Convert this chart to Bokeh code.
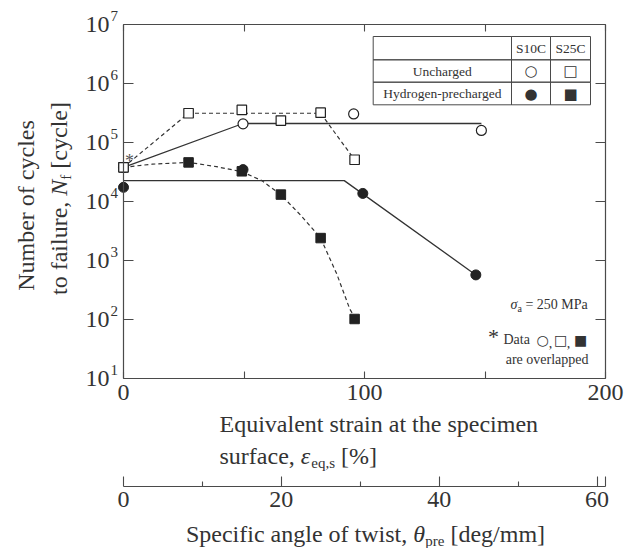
import math
from bokeh.plotting import figure
from bokeh.models import (Range1d, LinearAxis, LogAxis, FixedTicker, Label,
                          BoxAnnotation, CustomJSTickFormatter)
from bokeh.embed import file_html
from bokeh.resources import INLINE

# ---------------- data ----------------
strain_s10c_unch = [0, 49.6, 95.5, 148.5]
n_s10c_unch = [3.8e4, 2.07e5, 3.05e5, 1.6e5]

strain_s25c_unch = [0, 27.0, 49.1, 65.3, 81.8, 95.9]
n_s25c_unch = [3.8e4, 3.13e5, 3.57e5, 2.35e5, 3.2e5, 5.1e4]

strain_s10c_h = [0, 49.6, 99.3, 146.2]
n_s10c_h = [1.74e4, 3.47e4, 1.37e4, 570]

strain_s25c_h = [0, 27.0, 49.1, 65.3, 81.8, 95.9]
n_s25c_h = [3.8e4, 4.6e4, 3.25e4, 1.31e4, 2.4e3, 102]

# trend lines
trend_s10c_unch_strain = [0, 49.6, 148.5]
trend_s10c_unch_n = [3.8e4, 2.1e5, 2.1e5]
trend_s10c_h_strain = [0, 91.6, 146.2]
trend_s10c_h_n = [2.26e4, 2.26e4, 570]
trend_s25c_unch_strain = [0, 27.0, 81.8, 95.9]
trend_s25c_unch_n = [3.8e4, 3.13e5, 3.13e5, 5.1e4]
trend_s25c_h_strain = [0, 12, 27, 38.5, 49.1, 57.4, 65.3, 73.6, 81.8, 88.5, 93.9, 95.9]
trend_s25c_h_n = [3.8e4, 4.3e4, 4.6e4, 3.9e4, 3.2e4, 2.26e4, 1.3e4, 5.8e3, 2.4e3, 590, 150, 110]

x_min, x_max = 0, 200
y_min, y_max = 10, 1e7
x_ticks = [0, 100, 200]
x_minor = [50, 150]
theta_ticks = [0, 20, 40, 60]
theta_minor = [10, 30, 50]
y_exponents = [1, 2, 3, 4, 5, 6, 7]
strain_per_deg = 3.275   # % strain per deg/mm

# ---------------- page layout (pixels) ----------------
W, H = 638, 548
PL, PR, PT, PB = 123, 605, 24, 378     # plot box edges on the page
AX2 = 486                              # secondary axis line

FONT = "Liberation Serif"
TXT = "#333333"
AXC = "#4a4a4a"
MK = "#222222"
LN = "#333333"

def sx(X):
    return X

def sy(Y):
    return H - Y

# ranges so that the data box sits at the page box, frame = whole page
xs = (x_max - x_min) / (PR - PL)
x_start = x_min - PL * xs
x_end = x_max + (W - PR) * xs
ld = (math.log10(y_max) - math.log10(y_min)) / (PB - PT)
y_start = 10 ** (math.log10(y_min) - (H - PB) * ld)
y_end = 10 ** (math.log10(y_max) + PT * ld)
ax2_loc = 10 ** (math.log10(y_min) - (AX2 - PB) * ld)

p = figure(width=W, height=H, x_range=Range1d(x_start, x_end), y_range=Range1d(y_start, y_end),
           y_axis_type="log", x_axis_location=None, y_axis_location=None,
           output_backend="svg", toolbar_location=None,
           min_border_left=0, min_border_right=0, min_border_top=0, min_border_bottom=0)
p.grid.visible = False
p.outline_line_color = None
p.background_fill_color = "white"
p.border_fill_color = "white"

blank = CustomJSTickFormatter(code="return '';")

def style(a, tin, mtin=None):
    a.axis_line_color = AXC
    a.axis_line_width = 1.2
    a.major_tick_line_color = AXC
    a.major_tick_line_width = 1.1
    a.major_tick_in = tin
    a.major_tick_out = 0
    if mtin is None:
        a.minor_tick_line_color = None
    else:
        a.minor_tick_line_color = AXC
        a.minor_tick_line_width = 1.1
        a.minor_tick_in = mtin
        a.minor_tick_out = 0

# bottom x axis
xa = LinearAxis(fixed_location=y_min, bounds=(x_min, x_max),
                ticker=FixedTicker(ticks=x_ticks, minor_ticks=x_minor),
                major_label_text_font=FONT, major_label_text_font_size="24px",
                major_label_text_color=TXT, major_label_standoff=6)
style(xa, 7, 7)
p.add_layout(xa, "below")

# top axis (ticks only)
ta = LinearAxis(fixed_location=y_max, bounds=(x_min, x_max),
                ticker=FixedTicker(ticks=x_ticks, minor_ticks=x_minor), formatter=blank,
                major_label_standoff=0)
style(ta, 7, 7)
p.add_layout(ta, "above")

# left / right y axes
ya = LogAxis(fixed_location=x_min, bounds=(y_min, y_max),
             ticker=FixedTicker(ticks=[10.0 ** k for k in y_exponents], minor_ticks=[]),
             formatter=blank, major_label_standoff=0)
style(ya, 10)
p.add_layout(ya, "left")
ra = LogAxis(fixed_location=x_max, bounds=(y_min, y_max),
             ticker=FixedTicker(ticks=[10.0 ** k for k in y_exponents], minor_ticks=[]),
             formatter=blank, major_label_standoff=0)
style(ra, 10)
p.add_layout(ra, "right")

# secondary x axis: specific angle of twist
theta_end = x_max / strain_per_deg
p.extra_x_ranges = {"theta": Range1d(x_start / strain_per_deg, x_end / strain_per_deg)}
sa = LinearAxis(x_range_name="theta", fixed_location=ax2_loc, bounds=(0, theta_end),
                ticker=FixedTicker(ticks=theta_ticks + [theta_end - 0.02], minor_ticks=theta_minor),
                formatter=CustomJSTickFormatter(code="return tick > 60.5 ? '' : tick.toFixed(0);"),
                major_label_standoff=5, major_label_text_font=FONT,
                major_label_text_font_size="24px", major_label_text_color=TXT)
style(sa, 10, 5)
p.add_layout(sa, "below")

# ---------------- lines ----------------
p.line(trend_s10c_unch_strain, trend_s10c_unch_n, line_color=LN, line_width=1.3)
p.line(trend_s10c_h_strain, trend_s10c_h_n, line_color=LN, line_width=1.3)
p.line(trend_s25c_unch_strain, trend_s25c_unch_n, line_color=LN, line_width=1.2, line_dash="4 3")
p.line(trend_s25c_h_strain, trend_s25c_h_n, line_color=LN, line_width=1.2, line_dash="4 3")

# ---------------- markers ----------------
p.scatter(strain_s25c_h, n_s25c_h, marker="square", size=9.5, fill_color=MK, line_color=MK)
p.scatter(strain_s10c_h, n_s10c_h, marker="circle", size=10, fill_color=MK, line_color=MK)
p.scatter(strain_s10c_unch, n_s10c_unch, marker="circle", size=10, fill_color="white",
          line_color=MK, line_width=1.2)
p.scatter(strain_s25c_unch, n_s25c_unch, marker="square", size=9.5, fill_color="white",
          line_color=MK, line_width=1.2)

# asterisk at overlapped point
p.add_layout(Label(x=strain_s25c_unch[0], y=n_s25c_unch[0], x_offset=6, y_offset=6, text="*",
                   text_font=FONT, text_font_size="18px", text_color="#555555",
                   text_align="center", text_baseline="middle"))

# ---------------- y tick labels 10^k ----------------
for k in y_exponents:
    p.add_layout(Label(x=x_min, y=10.0 ** k, x_offset=-14, y_offset=0, text="10",
                       text_font=FONT, text_font_size="24px", text_color=TXT,
                       text_align="right", text_baseline="middle"))
    p.add_layout(Label(x=x_min, y=10.0 ** k, x_offset=-13, y_offset=9, text=str(k),
                       text_font=FONT, text_font_size="15px", text_color=TXT,
                       text_align="left", text_baseline="middle"))

# ---------------- rich text helper ----------------
TW = {' ': 250, ',': 250, '[': 333, ']': 333, '%': 833, '/': 278, '=': 564, '-': 333,
      'a': 444, 'b': 500, 'c': 444, 'd': 500, 'e': 444, 'f': 333, 'g': 500, 'h': 500,
      'i': 278, 'l': 278, 'm': 778, 'n': 500, 'o': 500, 'p': 500, 'q': 500, 'r': 333,
      's': 389, 't': 278, 'u': 500, 'v': 500, 'w': 722, 'y': 500, 'E': 611, 'S': 556,
      'N': 722, 'M': 889, 'P': 556}
TWI = {'N': 667, 'ε': 440, 'θ': 500, 'σ': 500}

def tw(s, size, italic=False):
    tot = 0
    for ch in s:
        if italic and ch in TWI:
            tot += TWI[ch]
        else:
            tot += TW.get(ch, 500)
    return tot * size / 1000.0

def rich(pieces, x0, y0, vertical=False):
    """pieces placed one after another; y0 / x0 is the middle line of the text"""
    pos = 0.0
    for text, size, st, shift in pieces:
        it = st == "italic"
        core = text.strip(" ")
        lead = len(text) - len(text.lstrip(" "))
        pos += tw(" " * lead, size)
        if vertical:
            x, y, ang = x0 - shift, y0 + pos, math.pi / 2
        else:
            x, y, ang = x0 + pos, y0 + shift, 0
        p.add_layout(Label(x=x, y=y, x_units="screen", y_units="screen", angle=ang,
                           text=core, text_font=FONT, text_font_size=f"{size}px",
                           text_font_style=st, text_color=TXT, text_align="left",
                           text_baseline="middle"))
        pos += tw(text.lstrip(" "), size, it)

def rich_width(pieces):
    return sum(tw(t, s, st == "italic") for t, s, st, _ in pieces)

# y axis title
p.add_layout(Label(x=sx(25), y=sy(205), x_units="screen", y_units="screen", angle=math.pi / 2,
                   text="Number of cycles", text_font=FONT, text_font_size="24px",
                   text_color=TXT, text_align="center", text_baseline="middle"))
ypieces = [("to failure, ", 24, "normal", 0), ("N", 24, "italic", 0),
           ("f", 15, "normal", -7), (" [cycle]", 24, "normal", 0)]
rich(ypieces, sx(58), sy(198) - rich_width(ypieces) / 2, vertical=True)

# x axis title
rich([("Equivalent strain at the specimen", 24, "normal", 0)], sx(219), sy(423))
rich([("surface, ", 24, "normal", 0), ("ε", 24, "italic", 0), ("eq,s", 15, "normal", -7),
      (" [%]", 24, "normal", 0)], sx(219), sy(455))

# secondary title
tpieces = [("Specific angle of twist, ", 24, "normal", 0), ("θ", 24, "italic", 0),
           ("pre", 15, "normal", -7), (" [deg/mm]", 24, "normal", 0)]
rich(tpieces, sx(365) - rich_width(tpieces) / 2, sy(533))

# ---------------- legend table ----------------
xe = [372.7, 511, 550, 590]
ye = [36, 59.3, 81.7, 104.3]
for i in range(3):
    for j in range(3):
        p.add_layout(BoxAnnotation(left=sx(xe[i]), right=sx(xe[i + 1]),
                                   top=sy(ye[j]), bottom=sy(ye[j + 1]),
                                   left_units="screen", right_units="screen",
                                   top_units="screen", bottom_units="screen",
                                   fill_alpha=0, line_color=AXC, line_width=1, line_alpha=1))

def ctext(t, X, Y, size="13.5px", font=FONT, align="center"):
    p.add_layout(Label(x=sx(X), y=sy(Y), x_units="screen", y_units="screen", text=t,
                       text_font=font, text_font_size=size, text_color=TXT,
                       text_align=align, text_baseline="middle"))

cx = [(xe[i] + xe[i + 1]) / 2 for i in range(3)]
cy = [(ye[j] + ye[j + 1]) / 2 for j in range(3)]
ctext("S10C", cx[1], cy[0])
ctext("S25C", cx[2], cy[0])
ctext("Uncharged", cx[0], cy[1])
ctext("Hydrogen-precharged", cx[0], cy[2])
ctext("○", cx[1], cy[1], "15px", "DejaVu Sans")
ctext("□", cx[2], cy[1], "15px", "DejaVu Sans")
ctext("●", cx[1], cy[2], "15px", "DejaVu Sans")
ctext("■", cx[2], cy[2], "15px", "DejaVu Sans")

# ---------------- notes ----------------
rich([("σ", 14, "italic", 0), ("a", 10, "normal", -4), (" = 250 MPa", 14, "normal", 0)],
     sx(510), sy(304))
p.add_layout(Label(x=sx(493), y=sy(336), x_units="screen", y_units="screen", text="*",
                   text_font=FONT, text_font_size="22px", text_color=TXT,
                   text_align="center", text_baseline="middle"))
ctext("Data", 503, 339, "14px", FONT, "left")
ctext("○", 542, 339, "14px", "DejaVu Sans")
ctext(",", 550, 342, "14px", FONT)
ctext("□", 560, 339, "14px", "DejaVu Sans")
ctext(",", 568, 342, "14px", FONT)
ctext("■", 580, 339, "14px", "DejaVu Sans")
ctext("are overlapped", 588, 359, "14px", FONT, "right")

open("out.html", "w").write(file_html(p, INLINE))
